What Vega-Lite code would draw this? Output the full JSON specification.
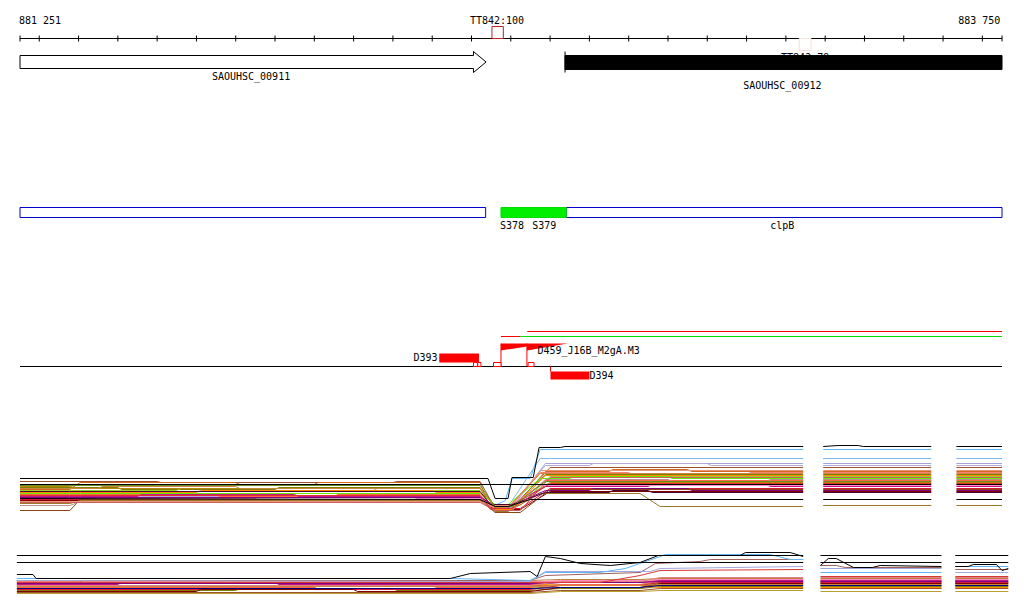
{
"$schema": "https://vega.github.io/schema/vega-lite/v6.json",
"width": 1024, "height": 611, "autosize": "none", "padding": 0, "background": "white",
"config": {"view": {"stroke": null}, "text": {"font": "DejaVu Sans Mono", "fontSize": 10, "color": "black"}},
"datasets": {
"blackRules": [
{"x":881251,"x2":883750,"y":38,"y2":38},{"x":881251,"x2":883750,"y":366,"y2":366},{"x":882638,"x2":882638,"y":51,"y2":72},
{"x":881251,"x2":881251,"y":35,"y2":41},{"x":881300,"x2":881300,"y":35,"y2":41},{"x":881400,"x2":881400,"y":35,"y2":41},{"x":881500,"x2":881500,"y":35,"y2":41},{"x":881600,"x2":881600,"y":35,"y2":41},{"x":881700,"x2":881700,"y":35,"y2":41},{"x":881800,"x2":881800,"y":35,"y2":41},{"x":881900,"x2":881900,"y":35,"y2":41},{"x":882000,"x2":882000,"y":35,"y2":41},{"x":882100,"x2":882100,"y":35,"y2":41},{"x":882200,"x2":882200,"y":35,"y2":41},{"x":882300,"x2":882300,"y":35,"y2":41},{"x":882400,"x2":882400,"y":35,"y2":41},{"x":882500,"x2":882500,"y":35,"y2":41},{"x":882600,"x2":882600,"y":35,"y2":41},{"x":882700,"x2":882700,"y":35,"y2":41},{"x":882800,"x2":882800,"y":35,"y2":41},{"x":882900,"x2":882900,"y":35,"y2":41},{"x":883000,"x2":883000,"y":35,"y2":41},{"x":883100,"x2":883100,"y":35,"y2":41},{"x":883200,"x2":883200,"y":35,"y2":41},{"x":883300,"x2":883300,"y":35,"y2":41},{"x":883400,"x2":883400,"y":35,"y2":41},{"x":883500,"x2":883500,"y":35,"y2":41},{"x":883600,"x2":883600,"y":35,"y2":41},{"x":883700,"x2":883700,"y":35,"y2":41},{"x":883750,"x2":883750,"y":35,"y2":41}
],
"redRules": [
{"x":882542,"x2":883750,"y":331,"y2":331},{"x":882475,"x2":882524,"y":336,"y2":336},{"x":882475,"x2":882475,"y":343,"y2":366},{"x":882541,"x2":882541,"y":343,"y2":366},{"x":882601,"x2":882601,"y":366,"y2":371}
],
"greenRules": [{"x":882524,"x2":883750,"y":336,"y2":336}],
"redRects": [{"x":882318,"x2":882419,"y":353,"y2":362},{"x":882601,"x2":882700,"y":371,"y2":379}],
"redBoxes": [{"x":882405,"x2":882415,"y":362,"y2":366},{"x":882416,"x2":882424,"y":362,"y2":366},{"x":882456,"x2":882475,"y":362,"y2":366},{"x":882544,"x2":882559,"y":362,"y2":366}],
"markerBox": [{"x":882452,"x2":882481,"y":26,"y2":38}],
"faintBox": [{"x":883234,"x2":883264,"y":38,"y2":50}],
"wedges": [{"w":1,"x":882475,"y":343,"y2":350},{"w":1,"x":882541,"y":343,"y2":346},{"w":2,"x":882541,"y":343,"y2":350},{"w":2,"x":882645,"y":343,"y2":343}],
"arrow": [{"o":1,"x":881251,"y":55},{"o":2,"x":882405,"y":55},{"o":3,"x":882405,"y":51},{"o":4,"x":882437,"y":61.5},{"o":5,"x":882405,"y":72},{"o":6,"x":882405,"y":68},{"o":7,"x":881251,"y":68},{"o":8,"x":881251,"y":55}],
"geneBar": [{"x":882638,"x2":883750,"y":55,"y2":69}],
"blueBoxes": [{"x":881251,"x2":882436,"y":207,"y2":217},{"x":882641,"x2":883750,"y":207,"y2":217}],
"greenBox": [{"x":882475,"x2":882641,"y":207,"y2":217}],
"hiddenLabel": [{"x":883249,"y":57,"t":"TT842:79"}],
"labels": [
{"x":881302,"y":20,"t":"881 251"},{"x":883692,"y":20,"t":"883 750"},{"x":882465,"y":20,"t":"TT842:100"},
{"x":881839,"y":76,"t":"SAOUHSC_00911"},{"x":883191,"y":85,"t":"SAOUHSC_00912"},
{"x":882503,"y":225,"t":"S378"},{"x":882585,"y":225,"t":"S379"},{"x":883191,"y":225,"t":"clpB"},
{"x":882283,"y":357,"t":"D393"},{"x":882731,"y":375,"t":"D394"},
{"x":882698,"y":350,"t":"D459_J16B_M2gA.M3"}
],
"p1": [
{"s":"p04","k":1,"x":881251,"v":15},{"s":"p04","k":1,"x":882422,"v":15},{"s":"p04","k":1,"x":882460,"v":7},{"s":"p04","k":1,"x":882486,"v":12},{"s":"p04","k":1,"x":882503,"v":34},{"s":"p04","k":1,"x":882549,"v":34},{"s":"p04","k":1,"x":882575,"v":63},{"s":"p04","k":1,"x":883244,"v":63},{"s":"p04","k":2,"x":883295,"v":63},{"s":"p04","k":2,"x":883570,"v":63},{"s":"p04","k":3,"x":883634,"v":63},{"s":"p04","k":3,"x":883750,"v":63},
{"s":"p05","k":1,"x":881251,"v":13},{"s":"p05","k":1,"x":881378,"v":13},{"s":"p05","k":1,"x":881404,"v":13},{"s":"p05","k":1,"x":882422,"v":13},{"s":"p05","k":1,"x":882460,"v":6},{"s":"p05","k":1,"x":882493,"v":6},{"s":"p05","k":1,"x":882575,"v":54},{"s":"p05","k":1,"x":883244,"v":54},{"s":"p05","k":2,"x":883295,"v":54},{"s":"p05","k":2,"x":883570,"v":54},{"s":"p05","k":3,"x":883634,"v":54},{"s":"p05","k":3,"x":883750,"v":54},
{"s":"p06","k":1,"x":881251,"v":17},{"s":"p06","k":1,"x":881378,"v":17},{"s":"p06","k":1,"x":881404,"v":17},{"s":"p06","k":1,"x":881700,"v":17},{"s":"p06","k":1,"x":881710,"v":19},{"s":"p06","k":1,"x":882100,"v":19},{"s":"p06","k":1,"x":882110,"v":17},{"s":"p06","k":1,"x":882422,"v":17},{"s":"p06","k":1,"x":882460,"v":5},{"s":"p06","k":1,"x":882503,"v":5},{"s":"p06","k":1,"x":882588,"v":49},{"s":"p06","k":1,"x":883244,"v":49},{"s":"p06","k":2,"x":883295,"v":49},{"s":"p06","k":2,"x":883570,"v":49},{"s":"p06","k":3,"x":883634,"v":49},{"s":"p06","k":3,"x":883750,"v":49},
{"s":"p07","k":1,"x":881251,"v":16},{"s":"p07","k":1,"x":881378,"v":16},{"s":"p07","k":1,"x":881404,"v":16},{"s":"p07","k":1,"x":882422,"v":16},{"s":"p07","k":1,"x":882448,"v":4},{"s":"p07","k":1,"x":882493,"v":4},{"s":"p07","k":1,"x":882588,"v":47},{"s":"p07","k":1,"x":882700,"v":47},{"s":"p07","k":1,"x":882710,"v":49},{"s":"p07","k":1,"x":883000,"v":49},{"s":"p07","k":1,"x":883010,"v":47},{"s":"p07","k":1,"x":883244,"v":47},{"s":"p07","k":2,"x":883295,"v":47},{"s":"p07","k":2,"x":883570,"v":47},{"s":"p07","k":3,"x":883634,"v":47},{"s":"p07","k":3,"x":883750,"v":47},
{"s":"p08","k":1,"x":881251,"v":31},{"s":"p08","k":1,"x":881378,"v":31},{"s":"p08","k":1,"x":881404,"v":31},{"s":"p08","k":1,"x":881600,"v":31},{"s":"p08","k":1,"x":881610,"v":30},{"s":"p08","k":1,"x":882200,"v":30},{"s":"p08","k":1,"x":882210,"v":31},{"s":"p08","k":1,"x":882422,"v":31},{"s":"p08","k":1,"x":882460,"v":4},{"s":"p08","k":1,"x":882503,"v":4},{"s":"p08","k":1,"x":882600,"v":45},{"s":"p08","k":1,"x":883244,"v":45},{"s":"p08","k":2,"x":883295,"v":45},{"s":"p08","k":2,"x":883570,"v":45},{"s":"p08","k":3,"x":883634,"v":45},{"s":"p08","k":3,"x":883750,"v":45},
{"s":"p09","k":1,"x":881251,"v":23},{"s":"p09","k":1,"x":881378,"v":23},{"s":"p09","k":1,"x":881404,"v":30},{"s":"p09","k":1,"x":881800,"v":30},{"s":"p09","k":1,"x":881810,"v":28},{"s":"p09","k":1,"x":882000,"v":28},{"s":"p09","k":1,"x":882010,"v":30},{"s":"p09","k":1,"x":882422,"v":30},{"s":"p09","k":1,"x":882448,"v":3},{"s":"p09","k":1,"x":882503,"v":3},{"s":"p09","k":1,"x":882588,"v":41},{"s":"p09","k":1,"x":882750,"v":41},{"s":"p09","k":1,"x":882760,"v":43},{"s":"p09","k":1,"x":882950,"v":43},{"s":"p09","k":1,"x":882960,"v":41},{"s":"p09","k":1,"x":883244,"v":41},{"s":"p09","k":2,"x":883295,"v":41},{"s":"p09","k":2,"x":883570,"v":41},{"s":"p09","k":3,"x":883634,"v":41},{"s":"p09","k":3,"x":883750,"v":41},
{"s":"p10","k":1,"x":881251,"v":12},{"s":"p10","k":1,"x":881378,"v":12},{"s":"p10","k":1,"x":881404,"v":12},{"s":"p10","k":1,"x":882422,"v":12},{"s":"p10","k":1,"x":882460,"v":5},{"s":"p10","k":1,"x":882493,"v":5},{"s":"p10","k":1,"x":882575,"v":40},{"s":"p10","k":1,"x":882800,"v":40},{"s":"p10","k":1,"x":882810,"v":38},{"s":"p10","k":1,"x":883100,"v":38},{"s":"p10","k":1,"x":883110,"v":40},{"s":"p10","k":1,"x":883244,"v":40},{"s":"p10","k":2,"x":883295,"v":40},{"s":"p10","k":2,"x":883570,"v":40},{"s":"p10","k":3,"x":883634,"v":40},{"s":"p10","k":3,"x":883750,"v":40},
{"s":"p11","k":1,"x":881251,"v":25},{"s":"p11","k":1,"x":881378,"v":25},{"s":"p11","k":1,"x":881404,"v":25},{"s":"p11","k":1,"x":881500,"v":25},{"s":"p11","k":1,"x":881510,"v":23},{"s":"p11","k":1,"x":881900,"v":23},{"s":"p11","k":1,"x":881910,"v":25},{"s":"p11","k":1,"x":882422,"v":25},{"s":"p11","k":1,"x":882448,"v":6},{"s":"p11","k":1,"x":882503,"v":6},{"s":"p11","k":1,"x":882588,"v":38},{"s":"p11","k":1,"x":883244,"v":38},{"s":"p11","k":2,"x":883295,"v":38},{"s":"p11","k":2,"x":883570,"v":38},{"s":"p11","k":3,"x":883634,"v":38},{"s":"p11","k":3,"x":883750,"v":38},
{"s":"p12","k":1,"x":881251,"v":22},{"s":"p12","k":1,"x":881378,"v":22},{"s":"p12","k":1,"x":881404,"v":22},{"s":"p12","k":1,"x":881650,"v":22},{"s":"p12","k":1,"x":881660,"v":24},{"s":"p12","k":1,"x":882150,"v":24},{"s":"p12","k":1,"x":882160,"v":22},{"s":"p12","k":1,"x":882422,"v":22},{"s":"p12","k":1,"x":882460,"v":7},{"s":"p12","k":1,"x":882524,"v":7},{"s":"p12","k":1,"x":882600,"v":36},{"s":"p12","k":1,"x":883244,"v":36},{"s":"p12","k":2,"x":883295,"v":36},{"s":"p12","k":2,"x":883570,"v":36},{"s":"p12","k":3,"x":883634,"v":36},{"s":"p12","k":3,"x":883750,"v":36},
{"s":"p13","k":1,"x":881251,"v":19},{"s":"p13","k":1,"x":881378,"v":19},{"s":"p13","k":1,"x":881404,"v":19},{"s":"p13","k":1,"x":882422,"v":19},{"s":"p13","k":1,"x":882460,"v":8},{"s":"p13","k":1,"x":882493,"v":8},{"s":"p13","k":1,"x":882575,"v":34},{"s":"p13","k":1,"x":882650,"v":34},{"s":"p13","k":1,"x":882660,"v":36},{"s":"p13","k":1,"x":882900,"v":36},{"s":"p13","k":1,"x":882910,"v":34},{"s":"p13","k":1,"x":883244,"v":34},{"s":"p13","k":2,"x":883295,"v":34},{"s":"p13","k":2,"x":883570,"v":34},{"s":"p13","k":3,"x":883634,"v":34},{"s":"p13","k":3,"x":883750,"v":34},
{"s":"p14","k":1,"x":881251,"v":18},{"s":"p14","k":1,"x":881378,"v":18},{"s":"p14","k":1,"x":881404,"v":18},{"s":"p14","k":1,"x":881750,"v":18},{"s":"p14","k":1,"x":881760,"v":16},{"s":"p14","k":1,"x":882050,"v":16},{"s":"p14","k":1,"x":882060,"v":18},{"s":"p14","k":1,"x":882422,"v":18},{"s":"p14","k":1,"x":882448,"v":6},{"s":"p14","k":1,"x":882503,"v":6},{"s":"p14","k":1,"x":882588,"v":32},{"s":"p14","k":1,"x":883244,"v":32},{"s":"p14","k":2,"x":883295,"v":32},{"s":"p14","k":2,"x":883570,"v":32},{"s":"p14","k":3,"x":883634,"v":32},{"s":"p14","k":3,"x":883750,"v":32},
{"s":"p15","k":1,"x":881251,"v":26},{"s":"p15","k":1,"x":881378,"v":26},{"s":"p15","k":1,"x":881404,"v":24},{"s":"p15","k":1,"x":882422,"v":24},{"s":"p15","k":1,"x":882460,"v":7},{"s":"p15","k":1,"x":882503,"v":7},{"s":"p15","k":1,"x":882600,"v":30},{"s":"p15","k":1,"x":883244,"v":30},{"s":"p15","k":2,"x":883295,"v":30},{"s":"p15","k":2,"x":883570,"v":30},{"s":"p15","k":3,"x":883634,"v":30},{"s":"p15","k":3,"x":883750,"v":30},
{"s":"p16","k":1,"x":881251,"v":16},{"s":"p16","k":1,"x":881378,"v":16},{"s":"p16","k":1,"x":881404,"v":16},{"s":"p16","k":1,"x":881550,"v":16},{"s":"p16","k":1,"x":881560,"v":18},{"s":"p16","k":1,"x":881950,"v":18},{"s":"p16","k":1,"x":881960,"v":16},{"s":"p16","k":1,"x":882422,"v":16},{"s":"p16","k":1,"x":882460,"v":5},{"s":"p16","k":1,"x":882493,"v":5},{"s":"p16","k":1,"x":882588,"v":26},{"s":"p16","k":1,"x":882850,"v":26},{"s":"p16","k":1,"x":882860,"v":28},{"s":"p16","k":1,"x":883150,"v":28},{"s":"p16","k":1,"x":883160,"v":26},{"s":"p16","k":1,"x":883244,"v":26},{"s":"p16","k":2,"x":883295,"v":26},{"s":"p16","k":2,"x":883570,"v":26},{"s":"p16","k":3,"x":883634,"v":26},{"s":"p16","k":3,"x":883750,"v":26},
{"s":"p17","k":1,"x":881251,"v":13},{"s":"p17","k":1,"x":881378,"v":13},{"s":"p17","k":1,"x":881404,"v":13},{"s":"p17","k":1,"x":882422,"v":13},{"s":"p17","k":1,"x":882448,"v":4},{"s":"p17","k":1,"x":882524,"v":4},{"s":"p17","k":1,"x":882600,"v":24},{"s":"p17","k":1,"x":883244,"v":24},{"s":"p17","k":2,"x":883295,"v":24},{"s":"p17","k":2,"x":883570,"v":24},{"s":"p17","k":3,"x":883634,"v":24},{"s":"p17","k":3,"x":883750,"v":24},
{"s":"p18","k":1,"x":881251,"v":15},{"s":"p18","k":1,"x":881378,"v":15},{"s":"p18","k":1,"x":881404,"v":15},{"s":"p18","k":1,"x":882422,"v":15},{"s":"p18","k":1,"x":882460,"v":7},{"s":"p18","k":1,"x":882503,"v":7},{"s":"p18","k":1,"x":882588,"v":22},{"s":"p18","k":1,"x":882700,"v":22},{"s":"p18","k":1,"x":882710,"v":24},{"s":"p18","k":1,"x":882950,"v":24},{"s":"p18","k":1,"x":882960,"v":22},{"s":"p18","k":1,"x":883244,"v":22},{"s":"p18","k":2,"x":883295,"v":22},{"s":"p18","k":2,"x":883570,"v":22},{"s":"p18","k":3,"x":883634,"v":22},{"s":"p18","k":3,"x":883750,"v":22},
{"s":"p19","k":1,"x":881251,"v":12},{"s":"p19","k":1,"x":881378,"v":12},{"s":"p19","k":1,"x":881404,"v":12},{"s":"p19","k":1,"x":882422,"v":12},{"s":"p19","k":1,"x":882460,"v":3},{"s":"p19","k":1,"x":882524,"v":3},{"s":"p19","k":1,"x":882600,"v":21},{"s":"p19","k":1,"x":883244,"v":21},{"s":"p19","k":2,"x":883295,"v":21},{"s":"p19","k":2,"x":883570,"v":21},{"s":"p19","k":3,"x":883634,"v":21},{"s":"p19","k":3,"x":883750,"v":21},
{"s":"p20","k":1,"x":881251,"v":14},{"s":"p20","k":1,"x":881378,"v":14},{"s":"p20","k":1,"x":881404,"v":14},{"s":"p20","k":1,"x":881850,"v":14},{"s":"p20","k":1,"x":881860,"v":12},{"s":"p20","k":1,"x":882250,"v":12},{"s":"p20","k":1,"x":882260,"v":14},{"s":"p20","k":1,"x":882422,"v":14},{"s":"p20","k":1,"x":882448,"v":6},{"s":"p20","k":1,"x":882493,"v":6},{"s":"p20","k":1,"x":882575,"v":27},{"s":"p20","k":1,"x":883244,"v":27},{"s":"p20","k":2,"x":883295,"v":27},{"s":"p20","k":2,"x":883570,"v":27},{"s":"p20","k":3,"x":883634,"v":27},{"s":"p20","k":3,"x":883750,"v":27},
{"s":"p21","k":1,"x":881251,"v":9},{"s":"p21","k":1,"x":881378,"v":9},{"s":"p21","k":1,"x":881404,"v":12},{"s":"p21","k":1,"x":882422,"v":12},{"s":"p21","k":1,"x":882460,"v":1},{"s":"p21","k":1,"x":882493,"v":1},{"s":"p21","k":1,"x":882575,"v":19},{"s":"p21","k":1,"x":882829,"v":19},{"s":"p21","k":1,"x":882880,"v":6},{"s":"p21","k":1,"x":883244,"v":6},{"s":"p21","k":2,"x":883295,"v":7},{"s":"p21","k":2,"x":883570,"v":7},{"s":"p21","k":3,"x":883634,"v":7},{"s":"p21","k":3,"x":883750,"v":7},
{"s":"p22","k":1,"x":881251,"v":2},{"s":"p22","k":1,"x":881378,"v":2},{"s":"p22","k":1,"x":881404,"v":13},{"s":"p22","k":1,"x":882422,"v":13},{"s":"p22","k":1,"x":882460,"v":0},{"s":"p22","k":1,"x":882524,"v":0},{"s":"p22","k":1,"x":882600,"v":23},{"s":"p22","k":1,"x":883244,"v":23},{"s":"p22","k":2,"x":883295,"v":23},{"s":"p22","k":2,"x":883570,"v":23},{"s":"p22","k":3,"x":883634,"v":23},{"s":"p22","k":3,"x":883750,"v":23},
{"s":"p23","k":1,"x":881251,"v":7},{"s":"p23","k":1,"x":881378,"v":7},{"s":"p23","k":1,"x":881404,"v":11},{"s":"p23","k":1,"x":882422,"v":11},{"s":"p23","k":1,"x":882460,"v":2},{"s":"p23","k":1,"x":882503,"v":2},{"s":"p23","k":1,"x":882588,"v":33},{"s":"p23","k":1,"x":882900,"v":33},{"s":"p23","k":1,"x":882910,"v":31},{"s":"p23","k":1,"x":883150,"v":31},{"s":"p23","k":1,"x":883160,"v":33},{"s":"p23","k":1,"x":883244,"v":33},{"s":"p23","k":2,"x":883295,"v":33},{"s":"p23","k":2,"x":883570,"v":33},{"s":"p23","k":3,"x":883634,"v":33},{"s":"p23","k":3,"x":883750,"v":33},
{"s":"p24","k":1,"x":881251,"v":11},{"s":"p24","k":1,"x":881378,"v":11},{"s":"p24","k":1,"x":881404,"v":11},{"s":"p24","k":1,"x":882422,"v":11},{"s":"p24","k":1,"x":882448,"v":7},{"s":"p24","k":1,"x":882503,"v":7},{"s":"p24","k":1,"x":882575,"v":42},{"s":"p24","k":1,"x":883244,"v":42},{"s":"p24","k":2,"x":883295,"v":42},{"s":"p24","k":2,"x":883570,"v":42},{"s":"p24","k":3,"x":883634,"v":42},{"s":"p24","k":3,"x":883750,"v":42},
{"s":"p25","k":1,"x":881251,"v":20},{"s":"p25","k":1,"x":881378,"v":20},{"s":"p25","k":1,"x":881404,"v":20},{"s":"p25","k":1,"x":881700,"v":20},{"s":"p25","k":1,"x":881710,"v":22},{"s":"p25","k":1,"x":882300,"v":22},{"s":"p25","k":1,"x":882310,"v":20},{"s":"p25","k":1,"x":882422,"v":20},{"s":"p25","k":1,"x":882460,"v":3},{"s":"p25","k":1,"x":882503,"v":3},{"s":"p25","k":1,"x":882588,"v":37},{"s":"p25","k":1,"x":883244,"v":37},{"s":"p25","k":2,"x":883295,"v":37},{"s":"p25","k":2,"x":883570,"v":37},{"s":"p25","k":3,"x":883634,"v":37},{"s":"p25","k":3,"x":883750,"v":37},
{"s":"p26","k":1,"x":881251,"v":10},{"s":"p26","k":1,"x":881378,"v":10},{"s":"p26","k":1,"x":881404,"v":10},{"s":"p26","k":1,"x":882422,"v":10},{"s":"p26","k":1,"x":882460,"v":2},{"s":"p26","k":1,"x":882524,"v":2},{"s":"p26","k":1,"x":882600,"v":35},{"s":"p26","k":1,"x":883244,"v":35},{"s":"p26","k":2,"x":883295,"v":35},{"s":"p26","k":2,"x":883570,"v":35},{"s":"p26","k":3,"x":883634,"v":35},{"s":"p26","k":3,"x":883750,"v":35},
{"s":"p27","k":1,"x":881251,"v":21},{"s":"p27","k":1,"x":881378,"v":21},{"s":"p27","k":1,"x":881404,"v":21},{"s":"p27","k":1,"x":882422,"v":21},{"s":"p27","k":1,"x":882448,"v":8},{"s":"p27","k":1,"x":882503,"v":8},{"s":"p27","k":1,"x":882588,"v":20},{"s":"p27","k":1,"x":882750,"v":20},{"s":"p27","k":1,"x":882760,"v":22},{"s":"p27","k":1,"x":882850,"v":22},{"s":"p27","k":1,"x":882860,"v":20},{"s":"p27","k":1,"x":883244,"v":20},{"s":"p27","k":2,"x":883295,"v":20},{"s":"p27","k":2,"x":883570,"v":20},{"s":"p27","k":3,"x":883634,"v":20},{"s":"p27","k":3,"x":883750,"v":20},
{"s":"p28","k":1,"x":881251,"v":24},{"s":"p28","k":1,"x":881378,"v":24},{"s":"p28","k":1,"x":881404,"v":24},{"s":"p28","k":1,"x":881450,"v":24},{"s":"p28","k":1,"x":881460,"v":26},{"s":"p28","k":1,"x":881800,"v":26},{"s":"p28","k":1,"x":881810,"v":24},{"s":"p28","k":1,"x":882422,"v":24},{"s":"p28","k":1,"x":882460,"v":5},{"s":"p28","k":1,"x":882493,"v":5},{"s":"p28","k":1,"x":882575,"v":39},{"s":"p28","k":1,"x":883244,"v":39},{"s":"p28","k":2,"x":883295,"v":39},{"s":"p28","k":2,"x":883570,"v":39},{"s":"p28","k":3,"x":883634,"v":39},{"s":"p28","k":3,"x":883750,"v":39},
{"s":"p29","k":1,"x":881251,"v":27},{"s":"p29","k":1,"x":881378,"v":27},{"s":"p29","k":1,"x":881404,"v":27},{"s":"p29","k":1,"x":882422,"v":27},{"s":"p29","k":1,"x":882460,"v":6},{"s":"p29","k":1,"x":882503,"v":6},{"s":"p29","k":1,"x":882588,"v":31},{"s":"p29","k":1,"x":883244,"v":31},{"s":"p29","k":2,"x":883295,"v":31},{"s":"p29","k":2,"x":883570,"v":31},{"s":"p29","k":3,"x":883634,"v":31},{"s":"p29","k":3,"x":883750,"v":31},
{"s":"p30","k":1,"x":881251,"v":17},{"s":"p30","k":1,"x":881378,"v":17},{"s":"p30","k":1,"x":881404,"v":17},{"s":"p30","k":1,"x":882422,"v":17},{"s":"p30","k":1,"x":882448,"v":4},{"s":"p30","k":1,"x":882503,"v":4},{"s":"p30","k":1,"x":882600,"v":29},{"s":"p30","k":1,"x":883244,"v":29},{"s":"p30","k":2,"x":883295,"v":29},{"s":"p30","k":2,"x":883570,"v":29},{"s":"p30","k":3,"x":883634,"v":29},{"s":"p30","k":3,"x":883750,"v":29},
{"s":"p03","k":1,"x":881251,"v":14},{"s":"p03","k":1,"x":882422,"v":13},{"s":"p03","k":1,"x":882460,"v":6},{"s":"p03","k":1,"x":882493,"v":6},{"s":"p03","k":1,"x":882549,"v":13},{"s":"p03","k":1,"x":883244,"v":13},{"s":"p03","k":2,"x":883295,"v":13},{"s":"p03","k":2,"x":883570,"v":13},{"s":"p03","k":3,"x":883634,"v":13},{"s":"p03","k":3,"x":883750,"v":13},
{"s":"p02","k":1,"x":881251,"v":28},{"s":"p02","k":1,"x":883244,"v":28},{"s":"p02","k":2,"x":883295,"v":28},{"s":"p02","k":2,"x":883570,"v":28},{"s":"p02","k":3,"x":883634,"v":28},{"s":"p02","k":3,"x":883750,"v":28},
{"s":"p01","k":1,"x":881251,"v":34},{"s":"p01","k":1,"x":882442,"v":34},{"s":"p01","k":1,"x":882460,"v":14},{"s":"p01","k":1,"x":882493,"v":14},{"s":"p01","k":1,"x":882503,"v":35},{"s":"p01","k":1,"x":882557,"v":35},{"s":"p01","k":1,"x":882572,"v":65},{"s":"p01","k":1,"x":882626,"v":65},{"s":"p01","k":1,"x":882638,"v":66},{"s":"p01","k":1,"x":883244,"v":66},{"s":"p01","k":2,"x":883295,"v":66},{"s":"p01","k":2,"x":883333,"v":67},{"s":"p01","k":2,"x":883384,"v":67},{"s":"p01","k":2,"x":883397,"v":66},{"s":"p01","k":2,"x":883570,"v":66},{"s":"p01","k":3,"x":883634,"v":66},{"s":"p01","k":3,"x":883750,"v":66}
],
"p2": [
{"s":"q08","k":1,"x":881243,"v":7},{"s":"q08","k":1,"x":881800,"v":7},{"s":"q08","k":1,"x":881810,"v":9},{"s":"q08","k":1,"x":882200,"v":9},{"s":"q08","k":1,"x":882210,"v":7},{"s":"q08","k":1,"x":882549,"v":7},{"s":"q08","k":1,"x":882626,"v":9},{"s":"q08","k":1,"x":882829,"v":9},{"s":"q08","k":1,"x":882880,"v":11},{"s":"q08","k":1,"x":883244,"v":11},{"s":"q08","k":2,"x":883288,"v":11},{"s":"q08","k":2,"x":883596,"v":11},{"s":"q08","k":3,"x":883631,"v":11},{"s":"q08","k":3,"x":883766,"v":11},
{"s":"q09","k":1,"x":881243,"v":11},{"s":"q09","k":1,"x":882549,"v":11},{"s":"q09","k":1,"x":882626,"v":13},{"s":"q09","k":1,"x":882829,"v":13},{"s":"q09","k":1,"x":882880,"v":15},{"s":"q09","k":1,"x":883244,"v":15},{"s":"q09","k":2,"x":883288,"v":15},{"s":"q09","k":2,"x":883596,"v":15},{"s":"q09","k":3,"x":883631,"v":15},{"s":"q09","k":3,"x":883766,"v":15},
{"s":"q10","k":1,"x":881243,"v":9},{"s":"q10","k":1,"x":882549,"v":9},{"s":"q10","k":1,"x":882626,"v":12},{"s":"q10","k":1,"x":882829,"v":12},{"s":"q10","k":1,"x":882880,"v":14},{"s":"q10","k":1,"x":883244,"v":14},{"s":"q10","k":2,"x":883288,"v":14},{"s":"q10","k":2,"x":883596,"v":14},{"s":"q10","k":3,"x":883631,"v":14},{"s":"q10","k":3,"x":883766,"v":14},
{"s":"q11","k":1,"x":881243,"v":12},{"s":"q11","k":1,"x":881600,"v":12},{"s":"q11","k":1,"x":881610,"v":10},{"s":"q11","k":1,"x":882000,"v":10},{"s":"q11","k":1,"x":882010,"v":12},{"s":"q11","k":1,"x":882549,"v":12},{"s":"q11","k":1,"x":882626,"v":12},{"s":"q11","k":1,"x":882829,"v":12},{"s":"q11","k":1,"x":882880,"v":12},{"s":"q11","k":1,"x":883244,"v":12},{"s":"q11","k":2,"x":883288,"v":12},{"s":"q11","k":2,"x":883596,"v":12},{"s":"q11","k":3,"x":883631,"v":12},{"s":"q11","k":3,"x":883766,"v":12},
{"s":"q12","k":1,"x":881243,"v":14},{"s":"q12","k":1,"x":882549,"v":14},{"s":"q12","k":1,"x":882626,"v":12},{"s":"q12","k":1,"x":882829,"v":12},{"s":"q12","k":1,"x":882880,"v":10},{"s":"q12","k":1,"x":883244,"v":10},{"s":"q12","k":2,"x":883288,"v":10},{"s":"q12","k":2,"x":883596,"v":10},{"s":"q12","k":3,"x":883631,"v":10},{"s":"q12","k":3,"x":883766,"v":10},
{"s":"q13","k":1,"x":881243,"v":10},{"s":"q13","k":1,"x":882000,"v":10},{"s":"q13","k":1,"x":882010,"v":12},{"s":"q13","k":1,"x":882300,"v":12},{"s":"q13","k":1,"x":882310,"v":10},{"s":"q13","k":1,"x":882549,"v":10},{"s":"q13","k":1,"x":882626,"v":13},{"s":"q13","k":1,"x":882829,"v":13},{"s":"q13","k":1,"x":882880,"v":16},{"s":"q13","k":1,"x":883244,"v":16},{"s":"q13","k":2,"x":883288,"v":16},{"s":"q13","k":2,"x":883596,"v":16},{"s":"q13","k":3,"x":883631,"v":16},{"s":"q13","k":3,"x":883766,"v":16},
{"s":"q14","k":1,"x":881243,"v":16},{"s":"q14","k":1,"x":882549,"v":16},{"s":"q14","k":1,"x":882626,"v":16},{"s":"q14","k":1,"x":882829,"v":16},{"s":"q14","k":1,"x":882880,"v":17},{"s":"q14","k":1,"x":883244,"v":17},{"s":"q14","k":2,"x":883288,"v":17},{"s":"q14","k":2,"x":883596,"v":17},{"s":"q14","k":3,"x":883631,"v":17},{"s":"q14","k":3,"x":883766,"v":17},
{"s":"q15","k":1,"x":881243,"v":15},{"s":"q15","k":1,"x":882549,"v":15},{"s":"q15","k":1,"x":882626,"v":17},{"s":"q15","k":1,"x":882829,"v":17},{"s":"q15","k":1,"x":882880,"v":18},{"s":"q15","k":1,"x":883244,"v":18},{"s":"q15","k":2,"x":883288,"v":18},{"s":"q15","k":2,"x":883596,"v":18},{"s":"q15","k":3,"x":883631,"v":18},{"s":"q15","k":3,"x":883766,"v":18},
{"s":"q16","k":1,"x":881243,"v":13},{"s":"q16","k":1,"x":881500,"v":13},{"s":"q16","k":1,"x":881510,"v":15},{"s":"q16","k":1,"x":881900,"v":15},{"s":"q16","k":1,"x":881910,"v":13},{"s":"q16","k":1,"x":882549,"v":13},{"s":"q16","k":1,"x":882626,"v":15},{"s":"q16","k":1,"x":882829,"v":15},{"s":"q16","k":1,"x":882880,"v":17},{"s":"q16","k":1,"x":883244,"v":17},{"s":"q16","k":2,"x":883288,"v":17},{"s":"q16","k":2,"x":883596,"v":17},{"s":"q16","k":3,"x":883631,"v":17},{"s":"q16","k":3,"x":883766,"v":17},
{"s":"q17","k":1,"x":881243,"v":8},{"s":"q17","k":1,"x":882549,"v":8},{"s":"q17","k":1,"x":882626,"v":12},{"s":"q17","k":1,"x":882829,"v":12},{"s":"q17","k":1,"x":882880,"v":15},{"s":"q17","k":1,"x":883244,"v":15},{"s":"q17","k":2,"x":883288,"v":15},{"s":"q17","k":2,"x":883596,"v":15},{"s":"q17","k":3,"x":883631,"v":15},{"s":"q17","k":3,"x":883766,"v":15},
{"s":"q18","k":1,"x":881243,"v":14},{"s":"q18","k":1,"x":882549,"v":14},{"s":"q18","k":1,"x":882626,"v":15},{"s":"q18","k":1,"x":882829,"v":15},{"s":"q18","k":1,"x":882880,"v":16},{"s":"q18","k":1,"x":883244,"v":16},{"s":"q18","k":2,"x":883288,"v":16},{"s":"q18","k":2,"x":883596,"v":16},{"s":"q18","k":3,"x":883631,"v":16},{"s":"q18","k":3,"x":883766,"v":16},
{"s":"q19","k":1,"x":881243,"v":6},{"s":"q19","k":1,"x":881700,"v":6},{"s":"q19","k":1,"x":881710,"v":8},{"s":"q19","k":1,"x":882100,"v":8},{"s":"q19","k":1,"x":882110,"v":6},{"s":"q19","k":1,"x":882549,"v":6},{"s":"q19","k":1,"x":882626,"v":10},{"s":"q19","k":1,"x":882829,"v":10},{"s":"q19","k":1,"x":882880,"v":14},{"s":"q19","k":1,"x":883244,"v":14},{"s":"q19","k":2,"x":883288,"v":14},{"s":"q19","k":2,"x":883596,"v":14},{"s":"q19","k":3,"x":883631,"v":14},{"s":"q19","k":3,"x":883766,"v":14},
{"s":"q20","k":1,"x":881243,"v":5},{"s":"q20","k":1,"x":882549,"v":5},{"s":"q20","k":1,"x":882626,"v":7},{"s":"q20","k":1,"x":882829,"v":7},{"s":"q20","k":1,"x":882880,"v":9},{"s":"q20","k":1,"x":883244,"v":9},{"s":"q20","k":2,"x":883288,"v":9},{"s":"q20","k":2,"x":883596,"v":9},{"s":"q20","k":3,"x":883631,"v":9},{"s":"q20","k":3,"x":883766,"v":9},
{"s":"q21","k":1,"x":881243,"v":11},{"s":"q21","k":1,"x":882549,"v":11},{"s":"q21","k":1,"x":882626,"v":12},{"s":"q21","k":1,"x":882829,"v":12},{"s":"q21","k":1,"x":882880,"v":13},{"s":"q21","k":1,"x":883244,"v":13},{"s":"q21","k":2,"x":883288,"v":13},{"s":"q21","k":2,"x":883596,"v":13},{"s":"q21","k":3,"x":883631,"v":13},{"s":"q21","k":3,"x":883766,"v":13},
{"s":"q22","k":1,"x":881243,"v":4},{"s":"q22","k":1,"x":882549,"v":4},{"s":"q22","k":1,"x":882626,"v":6},{"s":"q22","k":1,"x":882829,"v":6},{"s":"q22","k":1,"x":882880,"v":7},{"s":"q22","k":1,"x":883244,"v":7},{"s":"q22","k":2,"x":883288,"v":6},{"s":"q22","k":2,"x":883596,"v":6},{"s":"q22","k":3,"x":883631,"v":6},{"s":"q22","k":3,"x":883766,"v":6},
{"s":"q23","k":1,"x":881243,"v":9},{"s":"q23","k":1,"x":882549,"v":9},{"s":"q23","k":1,"x":882626,"v":10},{"s":"q23","k":1,"x":882829,"v":10},{"s":"q23","k":1,"x":882880,"v":12},{"s":"q23","k":1,"x":883244,"v":12},{"s":"q23","k":2,"x":883288,"v":12},{"s":"q23","k":2,"x":883596,"v":12},{"s":"q23","k":3,"x":883631,"v":12},{"s":"q23","k":3,"x":883766,"v":12},
{"s":"q24","k":1,"x":881243,"v":17},{"s":"q24","k":1,"x":881400,"v":17},{"s":"q24","k":1,"x":881410,"v":15},{"s":"q24","k":1,"x":881800,"v":15},{"s":"q24","k":1,"x":881810,"v":17},{"s":"q24","k":1,"x":882549,"v":17},{"s":"q24","k":1,"x":882626,"v":18},{"s":"q24","k":1,"x":882829,"v":18},{"s":"q24","k":1,"x":882880,"v":19},{"s":"q24","k":1,"x":883244,"v":19},{"s":"q24","k":2,"x":883288,"v":19},{"s":"q24","k":2,"x":883596,"v":19},{"s":"q24","k":3,"x":883631,"v":19},{"s":"q24","k":3,"x":883766,"v":19},
{"s":"q25","k":1,"x":881243,"v":12},{"s":"q25","k":1,"x":882549,"v":12},{"s":"q25","k":1,"x":882626,"v":16},{"s":"q25","k":1,"x":882829,"v":16},{"s":"q25","k":1,"x":882880,"v":20},{"s":"q25","k":1,"x":883244,"v":20},{"s":"q25","k":2,"x":883288,"v":20},{"s":"q25","k":2,"x":883596,"v":20},{"s":"q25","k":3,"x":883631,"v":20},{"s":"q25","k":3,"x":883766,"v":20},
{"s":"q07","k":1,"x":881243,"v":15},{"s":"q07","k":1,"x":882727,"v":15},{"s":"q07","k":1,"x":882829,"v":22},{"s":"q07","k":1,"x":882880,"v":27},{"s":"q07","k":1,"x":883244,"v":28},{"s":"q07","k":2,"x":883288,"v":21},{"s":"q07","k":2,"x":883596,"v":21},{"s":"q07","k":3,"x":883631,"v":21},{"s":"q07","k":3,"x":883766,"v":21},
{"s":"q06","k":1,"x":881243,"v":17},{"s":"q06","k":1,"x":882549,"v":17},{"s":"q06","k":1,"x":882588,"v":22},{"s":"q06","k":1,"x":882829,"v":25},{"s":"q06","k":1,"x":882868,"v":34},{"s":"q06","k":1,"x":882982,"v":36},{"s":"q06","k":1,"x":883008,"v":38},{"s":"q06","k":1,"x":883244,"v":38},{"s":"q06","k":2,"x":883288,"v":32},{"s":"q06","k":2,"x":883328,"v":32},{"s":"q06","k":2,"x":883351,"v":30},{"s":"q06","k":2,"x":883596,"v":30},{"s":"q06","k":3,"x":883631,"v":28},{"s":"q06","k":3,"x":883766,"v":28},
{"s":"q05","k":1,"x":881243,"v":17},{"s":"q05","k":1,"x":882549,"v":16},{"s":"q05","k":1,"x":882588,"v":26},{"s":"q05","k":1,"x":882855,"v":26},{"s":"q05","k":1,"x":882880,"v":29},{"s":"q05","k":1,"x":883244,"v":31},{"s":"q05","k":2,"x":883288,"v":29},{"s":"q05","k":2,"x":883596,"v":29},{"s":"q05","k":3,"x":883631,"v":25},{"s":"q05","k":3,"x":883766,"v":25},
{"s":"q04","k":1,"x":881243,"v":19},{"s":"q04","k":1,"x":882346,"v":19},{"s":"q04","k":1,"x":882549,"v":17},{"s":"q04","k":1,"x":882588,"v":25},{"s":"q04","k":1,"x":882727,"v":25},{"s":"q04","k":1,"x":882791,"v":29},{"s":"q04","k":1,"x":882873,"v":40},{"s":"q04","k":1,"x":882893,"v":43},{"s":"q04","k":1,"x":883160,"v":43},{"s":"q04","k":1,"x":883211,"v":38},{"s":"q04","k":1,"x":883244,"v":38},{"s":"q04","k":2,"x":883288,"v":25},{"s":"q04","k":2,"x":883596,"v":25},{"s":"q04","k":3,"x":883631,"v":31},{"s":"q04","k":3,"x":883766,"v":31},
{"s":"q01","k":1,"x":881243,"v":42},{"s":"q01","k":1,"x":883244,"v":42},{"s":"q01","k":2,"x":883288,"v":42},{"s":"q01","k":2,"x":883596,"v":42},{"s":"q01","k":3,"x":883631,"v":42},{"s":"q01","k":3,"x":883766,"v":42},
{"s":"q02","k":1,"x":881243,"v":35},{"s":"q02","k":1,"x":883244,"v":35},{"s":"q02","k":2,"x":883288,"v":35},{"s":"q02","k":2,"x":883596,"v":35},{"s":"q02","k":3,"x":883631,"v":35},{"s":"q02","k":3,"x":883766,"v":35},
{"s":"q03","k":1,"x":881243,"v":23},{"s":"q03","k":1,"x":881284,"v":23},{"s":"q03","k":1,"x":881292,"v":19},{"s":"q03","k":1,"x":882346,"v":19},{"s":"q03","k":1,"x":882397,"v":24},{"s":"q03","k":1,"x":882549,"v":26},{"s":"q03","k":1,"x":882567,"v":21},{"s":"q03","k":1,"x":882588,"v":41},{"s":"q03","k":1,"x":882626,"v":39},{"s":"q03","k":1,"x":882677,"v":34},{"s":"q03","k":1,"x":882753,"v":32},{"s":"q03","k":1,"x":882829,"v":35},{"s":"q03","k":1,"x":882875,"v":42},{"s":"q03","k":1,"x":883084,"v":42},{"s":"q03","k":1,"x":883097,"v":45},{"s":"q03","k":1,"x":883211,"v":45},{"s":"q03","k":1,"x":883244,"v":41},{"s":"q03","k":2,"x":883288,"v":32},{"s":"q03","k":2,"x":883308,"v":39},{"s":"q03","k":2,"x":883328,"v":39},{"s":"q03","k":2,"x":883372,"v":30},{"s":"q03","k":2,"x":883420,"v":30},{"s":"q03","k":2,"x":883440,"v":32},{"s":"q03","k":2,"x":883596,"v":31},{"s":"q03","k":3,"x":883631,"v":31},{"s":"q03","k":3,"x":883664,"v":31},{"s":"q03","k":3,"x":883677,"v":33},{"s":"q03","k":3,"x":883736,"v":33},{"s":"q03","k":3,"x":883750,"v":27},{"s":"q03","k":3,"x":883766,"v":29}
]
},
"layer": [
{"layer": [
 {"data":{"name":"blackRules"},"mark":{"type":"rule","color":"black","strokeWidth":1},
  "encoding":{"x":{"field":"x","type":"quantitative","scale":{"domain":[881251,883750],"range":[20,1002],"nice":false,"zero":false},"axis":null},"x2":{"field":"x2"},
   "y":{"field":"y","type":"quantitative","scale":{"domain":[0,611],"range":[0.5,611.5],"nice":false,"zero":false},"axis":null},"y2":{"field":"y2"}}},
 {"data":{"name":"hiddenLabel"},"mark":{"type":"text","align":"center","baseline":"middle"},
  "encoding":{"x":{"field":"x","type":"quantitative","scale":{"domain":[881251,883750],"range":[20,1002],"nice":false,"zero":false},"axis":null},
   "y":{"field":"y","type":"quantitative","scale":{"domain":[0,611],"range":[0.5,611.5],"nice":false,"zero":false},"axis":null},"text":{"field":"t"}}},
 {"data":{"name":"geneBar"},"mark":{"type":"rect","fill":"black","stroke":"black","strokeWidth":1},
  "encoding":{"x":{"field":"x","type":"quantitative","scale":{"domain":[881251,883750],"range":[20,1002],"nice":false,"zero":false},"axis":null},"x2":{"field":"x2"},
   "y":{"field":"y","type":"quantitative","scale":{"domain":[0,611],"range":[0.5,611.5],"nice":false,"zero":false},"axis":null},"y2":{"field":"y2"}}},
 {"data":{"name":"arrow"},"mark":{"type":"line","color":"black","strokeWidth":1},
  "encoding":{"x":{"field":"x","type":"quantitative","scale":{"domain":[881251,883750],"range":[20,1002],"nice":false,"zero":false},"axis":null},
   "y":{"field":"y","type":"quantitative","scale":{"domain":[0,611],"range":[0.5,611.5],"nice":false,"zero":false},"axis":null},"order":{"field":"o","type":"quantitative"}}},
 {"data":{"name":"faintBox"},"mark":{"type":"rect","fill":"white","stroke":"#f6e0d8","strokeWidth":1},
  "encoding":{"x":{"field":"x","type":"quantitative","scale":{"domain":[881251,883750],"range":[20,1002],"nice":false,"zero":false},"axis":null},"x2":{"field":"x2"},
   "y":{"field":"y","type":"quantitative","scale":{"domain":[0,611],"range":[0.5,611.5],"nice":false,"zero":false},"axis":null},"y2":{"field":"y2"}}},
 {"data":{"name":"markerBox"},"mark":{"type":"rect","fill":"white","stroke":"#c02020","strokeWidth":1},
  "encoding":{"x":{"field":"x","type":"quantitative","scale":{"domain":[881251,883750],"range":[20,1002],"nice":false,"zero":false},"axis":null},"x2":{"field":"x2"},
   "y":{"field":"y","type":"quantitative","scale":{"domain":[0,611],"range":[0.5,611.5],"nice":false,"zero":false},"axis":null},"y2":{"field":"y2"}}},
 {"data":{"name":"blueBoxes"},"mark":{"type":"rect","fill":"white","stroke":"#0000cc","strokeWidth":1},
  "encoding":{"x":{"field":"x","type":"quantitative","scale":{"domain":[881251,883750],"range":[20,1002],"nice":false,"zero":false},"axis":null},"x2":{"field":"x2"},
   "y":{"field":"y","type":"quantitative","scale":{"domain":[0,611],"range":[0.5,611.5],"nice":false,"zero":false},"axis":null},"y2":{"field":"y2"}}},
 {"data":{"name":"greenBox"},"mark":{"type":"rect","fill":"#00ee00","stroke":"#00dd00","strokeWidth":1},
  "encoding":{"x":{"field":"x","type":"quantitative","scale":{"domain":[881251,883750],"range":[20,1002],"nice":false,"zero":false},"axis":null},"x2":{"field":"x2"},
   "y":{"field":"y","type":"quantitative","scale":{"domain":[0,611],"range":[0.5,611.5],"nice":false,"zero":false},"axis":null},"y2":{"field":"y2"}}},
 {"data":{"name":"greenRules"},"mark":{"type":"rule","color":"#00dd00","strokeWidth":1},
  "encoding":{"x":{"field":"x","type":"quantitative","scale":{"domain":[881251,883750],"range":[20,1002],"nice":false,"zero":false},"axis":null},"x2":{"field":"x2"},
   "y":{"field":"y","type":"quantitative","scale":{"domain":[0,611],"range":[0.5,611.5],"nice":false,"zero":false},"axis":null},"y2":{"field":"y2"}}},
 {"data":{"name":"redRules"},"mark":{"type":"rule","color":"#ff0000","strokeWidth":1},
  "encoding":{"x":{"field":"x","type":"quantitative","scale":{"domain":[881251,883750],"range":[20,1002],"nice":false,"zero":false},"axis":null},"x2":{"field":"x2"},
   "y":{"field":"y","type":"quantitative","scale":{"domain":[0,611],"range":[0.5,611.5],"nice":false,"zero":false},"axis":null},"y2":{"field":"y2"}}},
 {"data":{"name":"wedges"},"mark":{"type":"area","color":"#ff0000"},
  "encoding":{"x":{"field":"x","type":"quantitative","scale":{"domain":[881251,883750],"range":[20,1002],"nice":false,"zero":false},"axis":null},
   "y":{"field":"y","type":"quantitative","scale":{"domain":[0,611],"range":[0.5,611.5],"nice":false,"zero":false},"axis":null},"y2":{"field":"y2"},"detail":{"field":"w"}}},
 {"data":{"name":"redRects"},"mark":{"type":"rect","fill":"#ff0000"},
  "encoding":{"x":{"field":"x","type":"quantitative","scale":{"domain":[881251,883750],"range":[20,1002],"nice":false,"zero":false},"axis":null},"x2":{"field":"x2"},
   "y":{"field":"y","type":"quantitative","scale":{"domain":[0,611],"range":[0.5,611.5],"nice":false,"zero":false},"axis":null},"y2":{"field":"y2"}}},
 {"data":{"name":"redBoxes"},"mark":{"type":"rect","fill":"white","stroke":"#ff0000","strokeWidth":1},
  "encoding":{"x":{"field":"x","type":"quantitative","scale":{"domain":[881251,883750],"range":[20,1002],"nice":false,"zero":false},"axis":null},"x2":{"field":"x2"},
   "y":{"field":"y","type":"quantitative","scale":{"domain":[0,611],"range":[0.5,611.5],"nice":false,"zero":false},"axis":null},"y2":{"field":"y2"}}},
 {"data":{"name":"labels"},"mark":{"type":"text","align":"center","baseline":"middle"},
  "encoding":{"x":{"field":"x","type":"quantitative","scale":{"domain":[881251,883750],"range":[20,1002],"nice":false,"zero":false},"axis":null},
   "y":{"field":"y","type":"quantitative","scale":{"domain":[0,611],"range":[0.5,611.5],"nice":false,"zero":false},"axis":null},"text":{"field":"t"}}}
]},
{"data":{"name":"p1"},"mark":{"type":"line","strokeWidth":1},
 "encoding":{"x":{"field":"x","type":"quantitative","scale":{"domain":[881251,883750],"range":[20,1002],"nice":false,"zero":false},"axis":null},
  "y":{"field":"v","type":"quantitative","scale":{"domain":[0,70],"range":[512.5,442.5],"nice":false,"zero":false},"axis":null},
  "color":{"field":"s","type":"nominal","legend":null,"scale":{"domain":["p01","p02","p03","p04","p05","p06","p07","p08","p09","p10","p11","p12","p13","p14","p15","p16","p17","p18","p19","p20","p21","p22","p23","p24","p25","p26","p27","p28","p29","p30"],
   "range":["#000000","#000000","#000000","#5fb4f5","#7ab8ee","#a4a4dc","#b8a8d8","#a0522d","#d2691e","#fa8072","#808000","#9acd32","#66ee00","#ff6347","#b8860b","#c71585","#dc143c","#800080","#800000","#ff88c8","#9c7a2a","#8b4513","#bc8f8f","#e9967a","#ff8c00","#cd5c5c","#4b0030","#cd853f","#6b8e23","#e03030"]}},
  "detail":{"field":"k"}}},
{"data":{"name":"p2"},"mark":{"type":"line","strokeWidth":1},
 "encoding":{"x":{"field":"x","type":"quantitative","scale":{"domain":[881251,883750],"range":[20,1002],"nice":false,"zero":false},"axis":null},
  "y":{"field":"v","type":"quantitative","scale":{"domain":[0,50],"range":[597.5,547.5],"nice":false,"zero":false},"axis":null},
  "color":{"field":"s","type":"nominal","legend":null,"scale":{"domain":["q01","q02","q03","q04","q05","q06","q07","q08","q09","q10","q11","q12","q13","q14","q15","q16","q17","q18","q19","q20","q21","q22","q23","q24","q25"],
   "range":["#000000","#000000","#000000","#5fb4f5","#a0a8e0","#a0605a","#d83838","#808000","#9acd32","#55ee00","#d2691e","#ff8c00","#ff6347","#fa8072","#ff88c8","#c71585","#dc143c","#800080","#800000","#a0522d","#cd853f","#b8a030","#000080","#c08040","#e08080"]}},
  "detail":{"field":"k"}}}
],
"resolve": {"scale": {"y": "independent", "color": "independent"}}
}
